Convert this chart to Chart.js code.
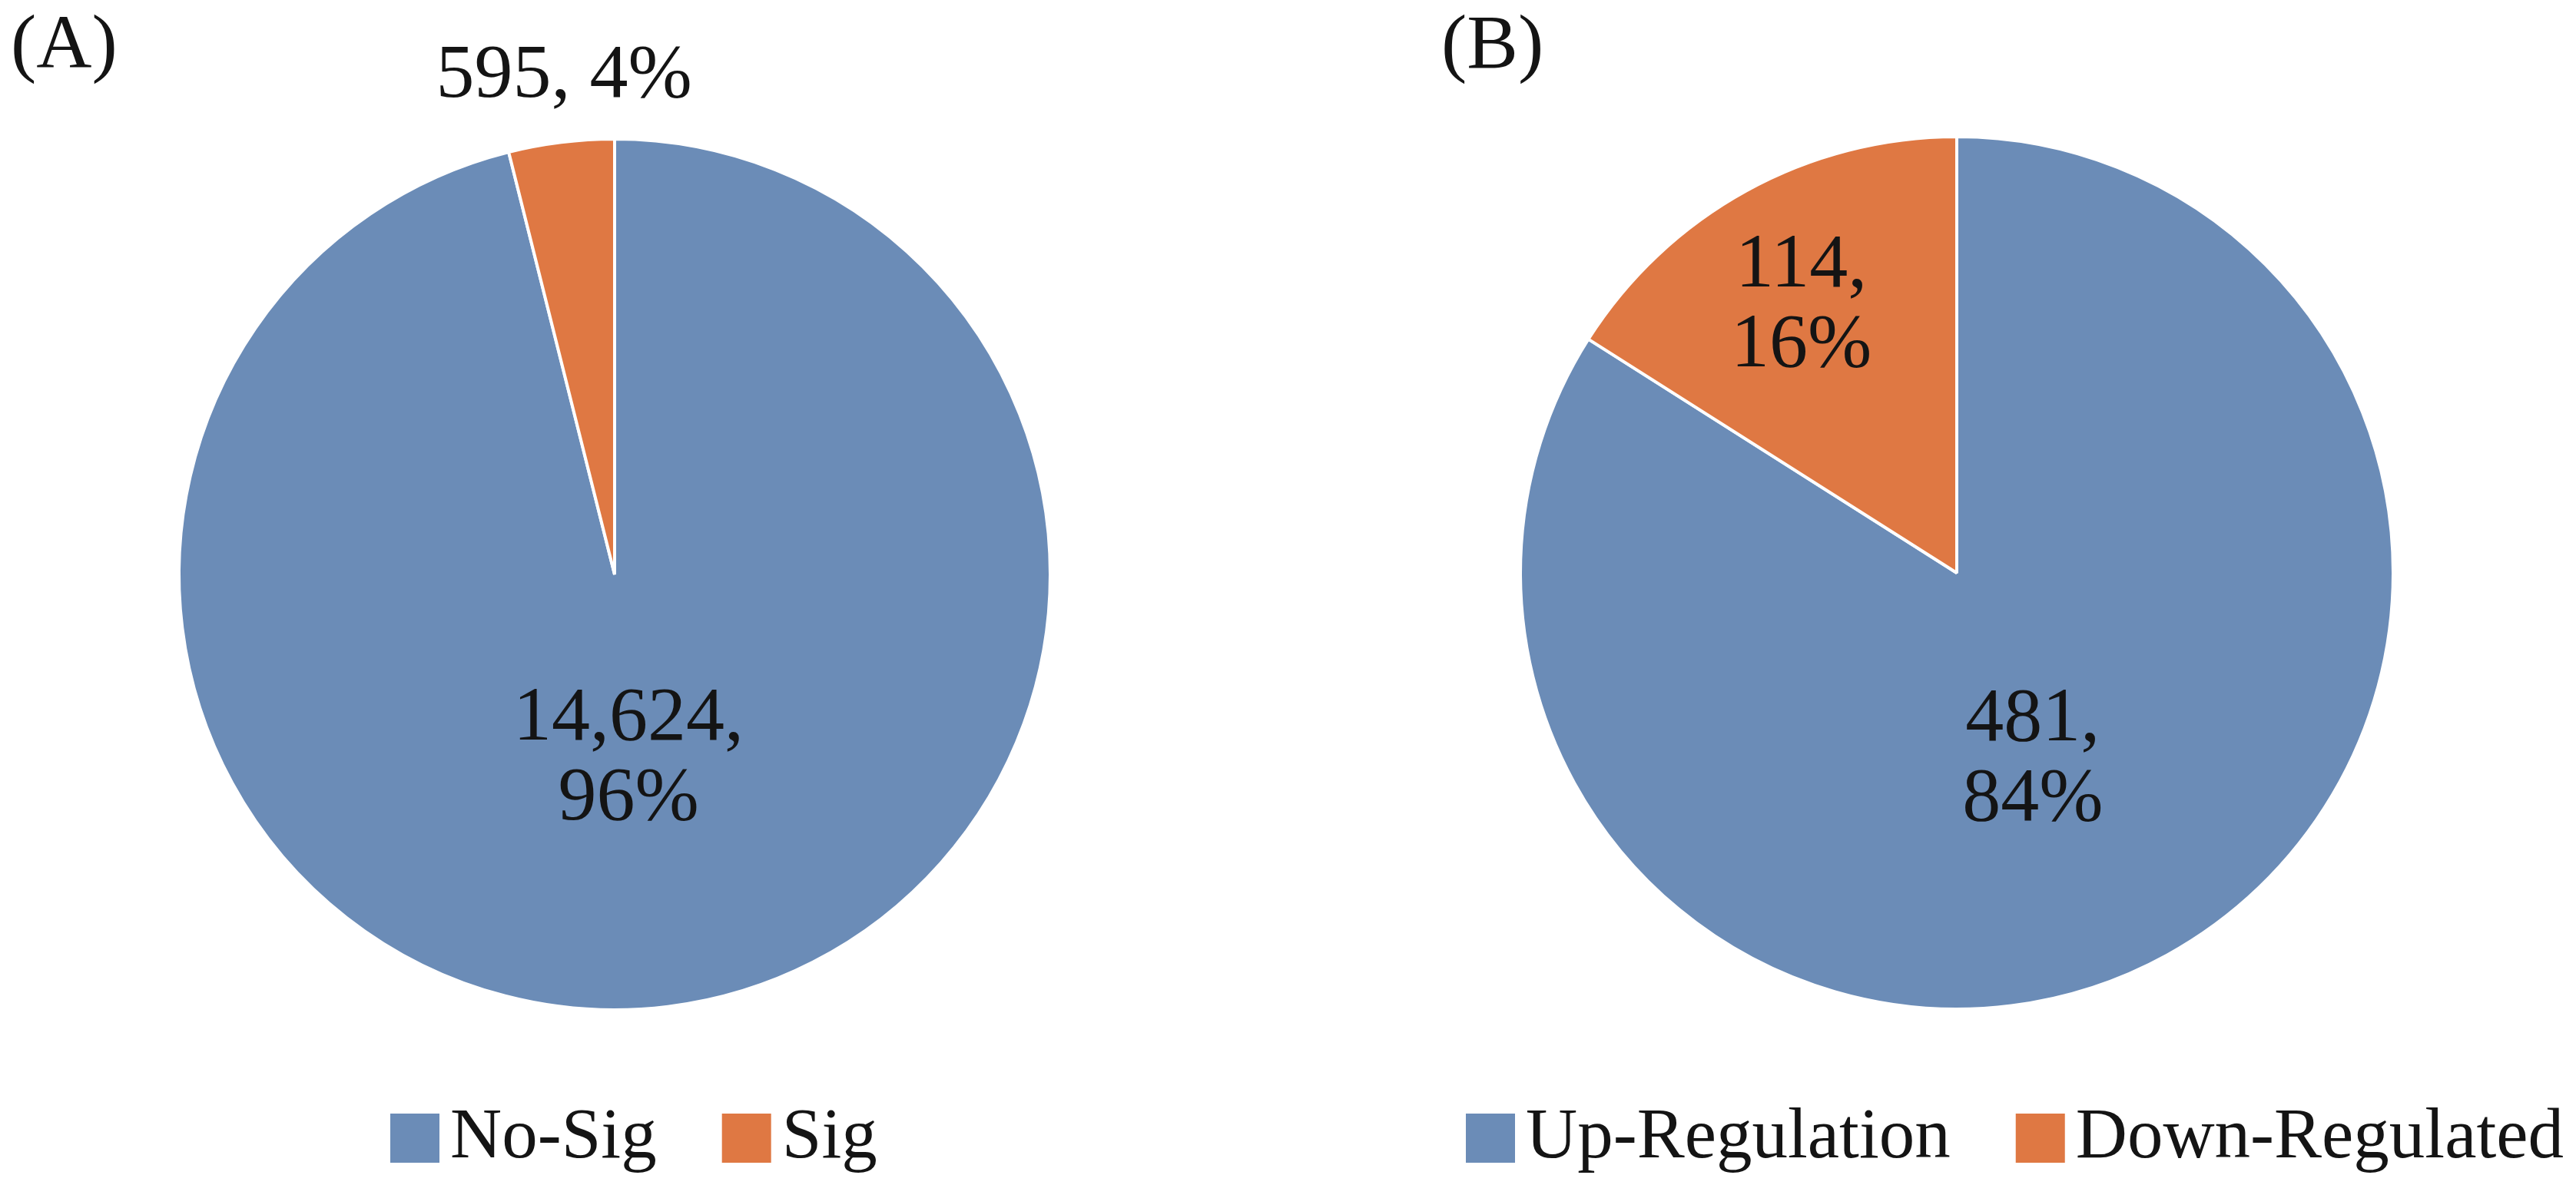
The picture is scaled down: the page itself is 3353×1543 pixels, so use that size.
<!DOCTYPE html>
<html lang="en">
<head>
<meta charset="UTF-8">
<title>Differential expression pies</title>
<script src="https://cdn.jsdelivr.net/npm/chart.js@4.4.1/dist/chart.umd.min.js"></script>
<style>
  html, body { margin: 0; padding: 0; background: #fff; }
  #wrap { position: relative; width: 3353px; height: 1543px; }
  canvas { position: absolute; top: 0; }
  #chart-a { left: 0; }
  #chart-b { left: 1676px; }
</style>
</head>
<body>
<div id="wrap">
  <canvas id="chart-a" width="1676" height="1543"></canvas>
  <canvas id="chart-b" width="1677" height="1543"></canvas>
</div>
<script>
// panel A: all genes
const categoriesA = ['No-Sig', 'Sig'];
const countsA = [14624, 595];
const percentA = [96, 4];

// panel B: significant genes
const categoriesB = ['Up-Regulation', 'Down-Regulated'];
const countsB = [481, 114];
const percentB = [84, 16]; // slices in the figure follow these, not the counts

const sliceColors = ['#6b8cb7', '#df7843'];
const FONT = '"Liberation Serif", "Times New Roman", serif';

// draws slice labels, panel tag and the legend
const pieText = {
    id: 'pieText',
    afterDatasetsDraw(chart, args, opts) {
        const ctx = chart.ctx;
        const ds = chart.data.datasets[0];
        const arcs = chart.getDatasetMeta(0).data;
        ctx.save();
        ctx.fillStyle = '#141414';
        ctx.textBaseline = 'alphabetic';

        ctx.font = `${opts.size}px ${FONT}`;
        ctx.textAlign = 'center';
        arcs.forEach((arc, i) => {
            const p = arc.getProps(['x', 'y', 'startAngle', 'endAngle', 'outerRadius'], true);
            const mid = (p.startAngle + p.endAngle) / 2 + opts.nudge[i] * Math.PI / 180;
            const r = p.outerRadius * opts.dist[i];
            const cx = p.x + Math.cos(mid) * r;
            const cy = p.y + Math.sin(mid) * r;
            const count = opts.counts[i].toLocaleString('en-US');
            const lines = opts.wrap[i]
                ? [count + ',', opts.percents[i] + '%']
                : [count + ', ' + opts.percents[i] + '%'];
            lines.forEach((t, k) => {
                const y = cy + (k - (lines.length - 1) / 2) * opts.lineHeight + opts.size * 0.34;
                ctx.fillText(t, cx, y);
            });
        });

        ctx.textAlign = 'left';
        ctx.fillText(opts.tag, opts.tagX, opts.tagY);

        // legend
        const box = 64;
        let x = opts.legendX;
        ctx.font = `${opts.legendSize}px ${FONT}`;
        chart.data.labels.forEach((lab, i) => {
            ctx.fillStyle = ds.backgroundColor[i];
            ctx.fillRect(x, opts.legendY, box, box);
            x += box + 14;
            ctx.fillStyle = '#141414';
            ctx.fillText(lab, x, opts.legendY + box - 7);
            x += ctx.measureText(lab).width + 85;
        });
        ctx.restore();
    }
};

function makePie(id, labels, values, padding, textOpts) {
    return new Chart(document.getElementById(id), {
        type: 'pie',
        data: {
            labels: labels,
            datasets: [{
                data: values,
                backgroundColor: sliceColors,
                borderColor: '#ffffff',
                borderWidth: 4
            }]
        },
        options: {
            responsive: false,
            devicePixelRatio: 1,
            animation: false,
            events: [],
            layout: { padding: padding },
            plugins: {
                legend: { display: false },
                tooltip: { enabled: false },
                pieText: textOpts
            }
        },
        plugins: [pieText]
    });
}

makePie('chart-a', categoriesA, countsA,
    { left: 231, top: 179, right: 307, bottom: 226 },
    {
        counts: countsA, percents: percentA,
        wrap: [true, false], dist: [0.412, 1.163], nudge: [2.6, 1.3],
        size: 100, lineHeight: 104,
        tag: '(A)', tagX: 14, tagY: 88,
        legendX: 508, legendY: 1450, legendSize: 93
    });

makePie('chart-b', categoriesB, percentB,
    { left: 301, top: 176, right: 236, bottom: 227 },
    {
        counts: countsB, percents: percentB,
        wrap: [true, true], dist: [0.451, 0.719], nudge: [6.1, -0.9],
        size: 100, lineHeight: 104,
        tag: '(B)', tagX: 200, tagY: 88,
        legendX: 232, legendY: 1450, legendSize: 93
    });
</script>
</body>
</html>
